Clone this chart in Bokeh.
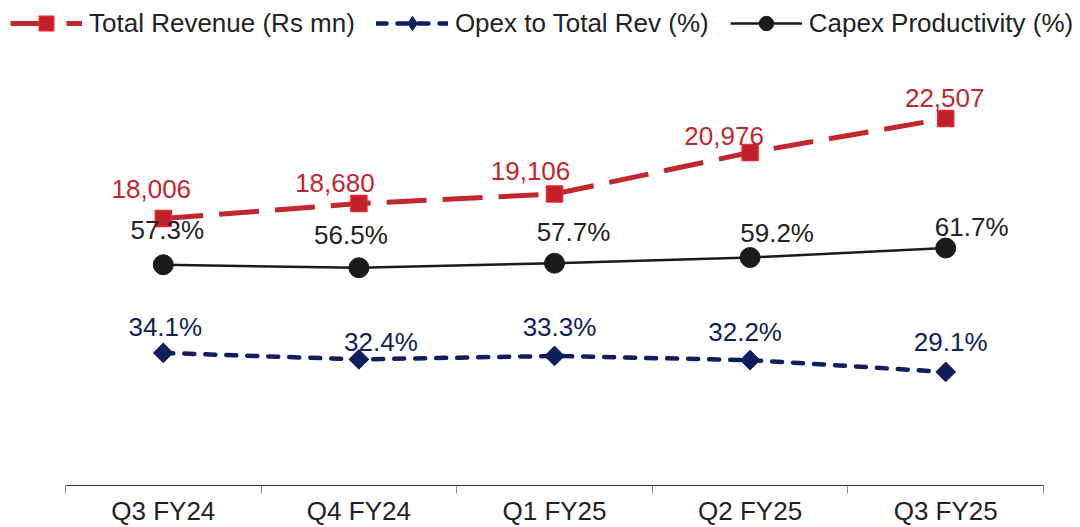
from bokeh.plotting import figure
from bokeh.models import Range1d, FixedTicker, Legend, LegendItem
from bokeh.core.properties import value
from bokeh.embed import file_html
from bokeh.resources import INLINE

# ---- data ----
categories = ["Q3 FY24", "Q4 FY24", "Q1 FY25", "Q2 FY25", "Q3 FY25"]
revenue = [18006, 18680, 19106, 20976, 22507]
opex_pct = [34.1, 32.4, 33.3, 32.2, 29.1]
capex_pct = [57.3, 56.5, 57.7, 59.2, 61.7]

# ---- label placement (style, screen px) ----
rev_dx = [-12, -24, -24, -26, -1]
rev_dy = [29, 21, 23, 17, 20]
capex_dx = [4, -8, 19, 27, 26]
capex_dy = [35, 33, 31, 25, 21]
opex_dx = [2, 22, 5, -5, 5]
opex_dy = [26, 17, 29, 28, 30]

FONT = "Liberation Sans"
RED = "#C1272D"
RED_EDGE = "#E8262C"
NAVY = "#0F1E5C"
BLACK = "#1A1A1A"
TEXT = "#222222"

n = len(categories)
x = [i + 0.5 for i in range(n)]
rev_labels = [f"{v:,}" for v in revenue]
opex_labels = [f"{v:.1f}%" for v in opex_pct]
capex_labels = [f"{v:.1f}%" for v in capex_pct]

UNIT = 978 / n  # px per category
p = figure(frame_width=1080, frame_height=485,
           x_range=Range1d(-65 / UNIT, n + 37 / UNIT),
           y_range=Range1d(-0.79, 126.84),
           output_backend="svg", toolbar_location=None, y_axis_location=None,
           min_border_left=0, min_border_right=0, min_border_top=0,
           min_border_bottom=42)
p.extra_y_ranges = {"rev": Range1d(5988, 27818)}
p.outline_line_color = None
p.grid.visible = False
p.background_fill_color = "white"
p.border_fill_color = "white"

# capex
capex_line = p.line(x, capex_pct, line_color=BLACK, line_width=2.5)
capex_pts = p.scatter(x, capex_pct, marker="circle", size=20,
                      fill_color=BLACK, line_color=BLACK)
# opex
opex_line = p.line(x, opex_pct, line_color=NAVY, line_width=4.5,
                   line_dash="10 11", line_cap="round")
# diamond marker (used for the legend swatch; covered by the rotated squares)
opex_diamond = p.scatter(x, opex_pct, marker="diamond", size=14,
                         fill_color=NAVY, line_color=NAVY)
opex_pts = p.scatter(x, opex_pct, marker="square", angle=0.785398, size=14,
                     fill_color=NAVY, line_color=NAVY)
# revenue
rev_line = p.line(x, revenue, y_range_name="rev", line_color=RED,
                  line_width=5, line_dash="40 16")
rev_pts = p.scatter(x, revenue, y_range_name="rev", marker="square", size=16,
                    fill_color="#C0202A", line_color=RED_EDGE, line_width=1.5)

common = dict(text_align="center", text_baseline="alphabetic",
              text_font=value(FONT), text_font_size="26px")
p.text(x=x, y=capex_pct, text=capex_labels, x_offset=capex_dx,
       y_offset=[-d for d in capex_dy], text_color=TEXT, **common)
p.text(x=x, y=opex_pct, text=opex_labels, x_offset=opex_dx,
       y_offset=[-d for d in opex_dy], text_color=NAVY, **common)
p.text(x=x, y=revenue, text=rev_labels, x_offset=rev_dx,
       y_offset=[-d for d in rev_dy], text_color=RED, y_range_name="rev", **common)

# x axis
ax = p.xaxis[0]
ax.bounds = (0, n)
ax.ticker = FixedTicker(ticks=x, minor_ticks=list(range(n + 1)))
ax.major_label_overrides = {xi: c for xi, c in zip(x, categories)}
ax.major_tick_line_color = None
ax.major_tick_in = 0
ax.major_tick_out = 0
ax.minor_tick_in = 0
ax.minor_tick_out = 8
ax.minor_tick_line_color = "#888888"
ax.axis_line_color = "#333333"
ax.axis_line_width = 1
ax.major_label_standoff = 2
ax.major_label_text_font = FONT
ax.major_label_text_font_size = "26px"
ax.major_label_text_color = TEXT

legend = Legend(items=[
    LegendItem(label="Total Revenue (Rs mn)", renderers=[rev_line, rev_pts]),
    LegendItem(label="Opex to Total Rev (%)", renderers=[opex_line, opex_diamond]),
    LegendItem(label="Capex Productivity (%)", renderers=[capex_line, capex_pts]),
], location=(10, 444), orientation="horizontal",
    glyph_width=72, glyph_height=36, label_height=36, label_standoff=7,
    spacing=21, padding=0, margin=0, border_line_color=None,
    background_fill_alpha=0, label_text_font=FONT,
    label_text_font_size="26px", label_text_color=TEXT)
p.add_layout(legend)

open("out.html", "w").write(file_html(p, INLINE))
